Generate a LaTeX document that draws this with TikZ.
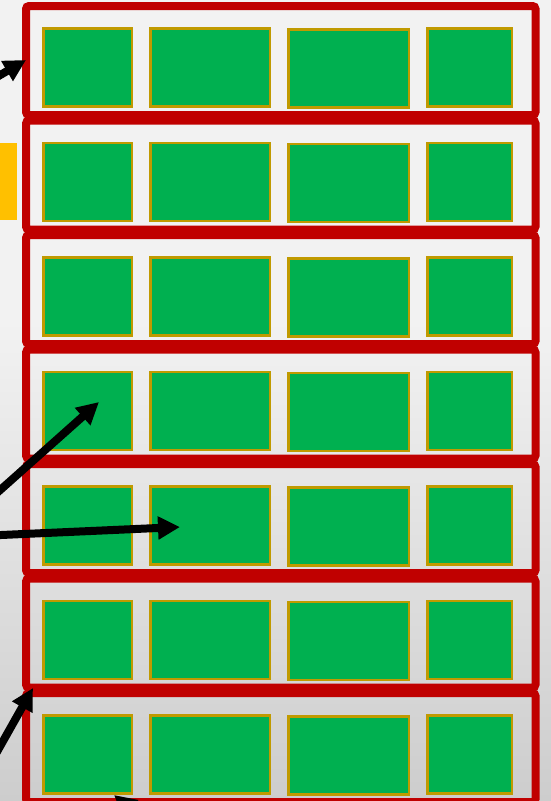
\documentclass[tikz,border=0pt]{standalone}
\usetikzlibrary{arrows.meta}
\definecolor{rowred}{HTML}{C00000}
\definecolor{cellgreen}{HTML}{00B050}
\definecolor{cellgold}{HTML}{C09A00}
\definecolor{tabyellow}{HTML}{FFC000}
\definecolor{bgtop}{HTML}{F2F2F2}
\definecolor{bgmid}{HTML}{E2E2E2}
\definecolor{bgbot}{HTML}{CDCDCD}
\tikzset{
  rowbox/.style={draw=rowred, line width=8pt, rounded corners=3pt, inner sep=0pt, outer sep=0pt, anchor=north west, minimum width=509.5pt, minimum height=109pt},
  cell/.style={draw=cellgold, fill=cellgreen, line width=2.5pt, inner sep=0pt, outer sep=0pt, anchor=north west, minimum height=78pt},
  pointer/.style={line width=8pt, -{Triangle[length=22pt,width=22pt]}, black},
  tab/.style={fill=tabyellow, draw=none, inner sep=0pt, outer sep=0pt, anchor=north west, minimum width=17pt, minimum height=77pt}
}
\begin{document}
\begin{tikzpicture}[x=1pt,y=-1pt]
\useasboundingbox (0,0) rectangle (551,801);
\clip (0,0) rectangle (551,801);
\fill[bgtop] (0,0) rectangle (551,321);
\shade[top color=bgtop, middle color=bgmid, bottom color=bgbot] (0,320) rectangle (551,801);
% rows
\foreach \i in {0,...,6}{
  \pgfmathsetmacro{\t}{6+114.5*\i}
  \pgfmathsetmacro{\g}{28.25+114.5*\i}
  \pgfmathsetmacro{\h}{29.25+114.5*\i}
  \node[rowbox] (row\i) at (26,\t) {};
  \node[cell, minimum width=88.5pt] (c\i a) at (43.25,\g) {};
  \node[cell, minimum width=119.5pt] (c\i b) at (150.25,\g) {};
  \node[cell, minimum width=120.5pt] (c\i c) at (288.25,\h) {};
  \node[cell, minimum width=84.5pt] (c\i d) at (427.25,\g) {};
}
% yellow tab
\node[tab] (tab) at (0,143) {};
% arrows
\coordinate (s1) at (-22,88);
\coordinate (e1) at (26,60);
\coordinate (s2) at (-20,508);
\coordinate (e2) at (99,402);
\coordinate (s3) at (-10,535.5);
\coordinate (e3) at (180,527);
\coordinate (s4) at (-20,782);
\coordinate (e4) at (33,688);
\coordinate (s5) at (180,850);
\coordinate (e5) at (114,795);
\draw[pointer] (s1) -- (e1);
\draw[pointer] (s2) -- (e2);
\draw[pointer] (s3) -- (e3);
\draw[pointer] (s4) -- (e4);
\draw[pointer] (s5) -- (e5);
\end{tikzpicture}
\end{document}
